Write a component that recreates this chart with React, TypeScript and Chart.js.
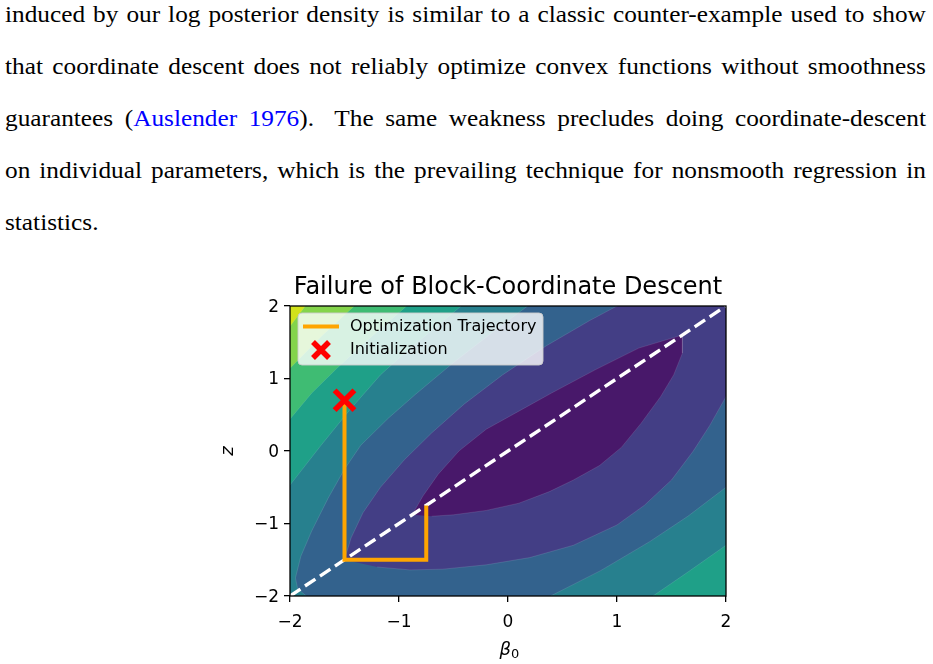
import React, { useEffect, useRef } from "react";
import { Chart, registerables } from "chart.js";

Chart.register(...registerables);

// ---------------- paragraph text ----------------
const paragraphLines: string[] = [
  "induced by our log posterior density is similar to a classic counter-example used to show",
  "that coordinate descent does not reliably optimize convex functions without smoothness",
  "guarantees (Auslender 1976).  The same weakness precludes doing coordinate-descent",
  "on individual parameters, which is the prevailing technique for nonsmooth regression in",
  "statistics.",
];
const citationWords: string[] = ["Auslender", "1976"];
const lineBaselines: number[] = [22.7, 74.7, 126.7, 178.7, 230.7];

// ---------------- chart text ----------------
const chartTitle = "Failure of Block-Coordinate Descent";
const xAxisSymbol = "β";
const xAxisSubscript = "0";
const yAxisLabel = "z";
const xTickValues: number[] = [-2, -1, 0, 1, 2];
const yTickValues: number[] = [-2, -1, 0, 1, 2];
const legendLabels: string[] = ["Optimization Trajectory", "Initialization"];

// ---------------- series ----------------
const trajectoryBeta0: number[] = [-1.5, -1.5, -0.75, -0.75];
const trajectoryZ: number[] = [0.7, -1.5, -1.5, -0.75];
const initBeta0: number[] = [-1.5];
const initZ: number[] = [0.7];
const diagonalBeta0: number[] = [-2, 2];
const diagonalZ: number[] = [-2, 2];

// filled contour bands, inner (lowest) to outer (highest)
const bandColors: string[] = [
  "#48186a", "#433e85", "#33628d", "#27808e",
  "#1fa088", "#3fbc73", "#84d44b", "#d2e21b",
];

// contour boundaries [beta0, z]; each is a closed region below that level
const level1: number[][] = [
  [-0.88, -0.88], [-0.78, -0.62], [-0.64, -0.32], [-0.45, 0.0], [-0.2, 0.3], [0.1, 0.55],
  [0.4, 0.8], [0.8, 1.12], [1.2, 1.42], [1.6, 1.6], [1.6, 1.35], [1.52, 1.05], [1.4, 0.75],
  [1.22, 0.38], [1.04, 0.05], [0.84, -0.2], [0.6, -0.4], [0.38, -0.56], [0.1, -0.72],
  [-0.2, -0.82], [-0.5, -0.88], [-0.7, -0.9],
];
const level2: number[][] = [
  [-1.5, -1.5], [-1.44, -1.2], [-1.33, -0.85], [-1.17, -0.5], [-0.95, -0.12], [-0.7, 0.25],
  [-0.4, 0.65], [-0.05, 1.05], [0.35, 1.45], [0.75, 1.8], [1.0, 2.0], [1.5, 2.35], [2.5, 2.6],
  [2.6, 1.6], [2.2, 1.25], [2.0, 0.75], [1.85, 0.35], [1.7, 0.0], [1.5, -0.4], [1.25, -0.75],
  [1.0, -1.02], [0.6, -1.3], [0.2, -1.47], [-0.2, -1.57], [-0.6, -1.63], [-0.9, -1.64],
  [-1.2, -1.6],
];
const level3: number[][] = [
  [-1.8, -2.6], [-1.85, -2.0], [-1.93, -1.9], [-1.95, -1.75], [-1.9, -1.45], [-1.8, -1.1],
  [-1.65, -0.65], [-1.5, -0.25], [-1.35, 0.08], [-1.1, 0.45], [-0.85, 0.78], [-0.5, 1.22],
  [-0.07, 1.72], [0.18, 2.0], [0.5, 2.6], [2.6, 2.6], [2.6, 0.0], [2.0, -0.5], [1.65, -0.9],
  [1.3, -1.25], [0.85, -1.65], [0.39, -2.0], [0.3, -2.6],
];
const level4: number[][] = [
  [-0.25, 2.6], [-0.43, 2.0], [-0.75, 1.6], [-0.95, 1.35], [-1.17, 1.05], [-1.45, 0.57],
  [-1.72, 0.07], [-1.86, -0.2], [-2.0, -0.47], [-2.6, -1.4], [-2.6, -2.6], [1.1, -2.6],
  [1.33, -2.0], [1.66, -1.66], [2.0, -1.3], [2.6, -0.8], [2.6, 2.6],
];
const level5: number[][] = [
  [-2.6, -0.5], [-2.0, 0.44], [-1.8, 0.8], [-1.57, 1.14], [-1.25, 1.58], [-0.93, 2.0],
  [-0.6, 2.6], [2.6, 2.6], [2.6, -2.6], [-2.6, -2.6],
];
const level6: number[][] = [
  [-2.6, 0.3], [-2.0, 1.14], [-1.7, 1.6], [-1.41, 2.0], [-1.1, 2.6], [2.6, 2.6],
  [2.6, -2.6], [-2.6, -2.6],
];
const level7: number[][] = [
  [-2.3, 1.12], [-2.0, 1.72], [-1.86, 2.0], [-1.6, 2.6], [2.6, 2.6], [2.6, -2.6], [-2.6, -2.6],
];
const outerBox: number[][] = [[-2.6, -2.6], [2.6, -2.6], [2.6, 2.6], [-2.6, 2.6]];

const contourLevels: number[][][] = [level1, level2, level3, level4, level5, level6, level7, outerBox];

const trajectoryColor = "#ffa500";
const initColor = "#ff0000";

const fmt = (v: number) => (v < 0 ? "\u2212" + Math.abs(v) : String(v));

function drawCross(ctx: CanvasRenderingContext2D, cx: number, cy: number, half: number, lw: number, color: string) {
  ctx.save();
  ctx.strokeStyle = color;
  ctx.lineWidth = lw;
  ctx.lineCap = "butt";
  ctx.beginPath();
  ctx.moveTo(cx - half, cy - half);
  ctx.lineTo(cx + half, cy + half);
  ctx.moveTo(cx - half, cy + half);
  ctx.lineTo(cx + half, cy - half);
  ctx.stroke();
  ctx.restore();
}

const framePlugin = {
  id: "mplFrame",
  afterDatasetsDraw(chart: any) {
    const { ctx, chartArea: a } = chart;
    ctx.save();
    ctx.strokeStyle = "#000";
    ctx.lineWidth = 1.3;
    ctx.strokeRect(a.left, a.top, a.right - a.left, a.bottom - a.top);
    ctx.restore();
  },
};

const xLabelPlugin = {
  id: "mplXLabel",
  afterDraw(chart: any) {
    const { ctx, chartArea: a } = chart;
    ctx.save();
    ctx.fillStyle = "#000";
    ctx.textBaseline = "alphabetic";
    ctx.textAlign = "left";
    ctx.font = 'italic 18px "DejaVu Sans"';
    const wb = ctx.measureText(xAxisSymbol).width;
    ctx.font = '13px "DejaVu Sans"';
    const ws = ctx.measureText(xAxisSubscript).width;
    const cx = (a.left + a.right) / 2 + 1.5;
    const x = cx - (wb + ws) / 2;
    const base = a.bottom + 59;
    ctx.font = 'italic 18px "DejaVu Sans"';
    ctx.fillText(xAxisSymbol, x, base);
    ctx.font = '13px "DejaVu Sans"';
    ctx.fillText(xAxisSubscript, x + wb, base + 2.5);
    ctx.restore();
  },
};

const legendPlugin = {
  id: "mplLegend",
  afterDraw(chart: any) {
    const { ctx, chartArea: a } = chart;
    const x0 = a.left + 8;
    const y0 = a.top + 7;
    const w = 245;
    const h = 52;
    ctx.save();
    ctx.beginPath();
    ctx.roundRect(x0, y0, w, h, 4);
    ctx.fillStyle = "rgba(255,255,255,0.8)";
    ctx.fill();
    ctx.strokeStyle = "rgba(204,204,204,0.9)";
    ctx.lineWidth = 1;
    ctx.stroke();
    const y1 = y0 + 13.5;
    const y2 = y0 + 37;
    ctx.strokeStyle = trajectoryColor;
    ctx.lineWidth = 4;
    ctx.beginPath();
    ctx.moveTo(x0 + 5, y1);
    ctx.lineTo(x0 + 41, y1);
    ctx.stroke();
    drawCross(ctx, x0 + 23, y2, 8, 5.5, initColor);
    ctx.fillStyle = "#000";
    ctx.font = '16px "DejaVu Sans"';
    ctx.textBaseline = "middle";
    ctx.textAlign = "left";
    ctx.fillText(legendLabels[0], x0 + 52, y1);
    ctx.fillText(legendLabels[1], x0 + 52, y2);
    ctx.restore();
  },
};

function ContourChart() {
  const ref = useRef<HTMLCanvasElement | null>(null);
  useEffect(() => {
    if (!ref.current) return;
    const pts = (xs: number[], ys: number[]) => xs.map((x, i) => ({ x, y: ys[i] }));
    const contourDatasets = contourLevels.map((poly, i) => ({
      type: "line" as const,
      label: "level" + i,
      data: poly.map(([x, y]) => ({ x, y })),
      borderWidth: 0.7,
      borderColor: "rgba(255,255,255,0.16)",
      backgroundColor: bandColors[i],
      fill: "shape" as const,
      pointRadius: 0,
      tension: 0,
      order: 10 + i,
    }));
    const chart = new Chart(ref.current, {
      type: "line",
      data: {
        datasets: [
          {
            type: "scatter",
            label: legendLabels[1],
            data: pts(initBeta0, initZ),
            pointStyle: "crossRot",
            pointRadius: 14,
            pointBorderWidth: 5.5,
            borderColor: initColor,
            backgroundColor: initColor,
            order: 0,
          } as any,
          {
            label: legendLabels[0],
            data: pts(trajectoryBeta0, trajectoryZ),
            borderColor: trajectoryColor,
            borderWidth: 4,
            pointRadius: 0,
            fill: false,
            tension: 0,
            order: 1,
          },
          {
            label: "diagonal",
            data: pts(diagonalBeta0, diagonalZ),
            borderColor: "#ffffff",
            borderWidth: 3.4,
            borderDash: [12.5, 5.5],
            pointRadius: 0,
            fill: false,
            order: 2,
          },
          ...contourDatasets,
        ],
      },
      options: {
        responsive: false,
        maintainAspectRatio: false,
        animation: false,
        events: [],
        layout: { padding: { left: 0, right: 34, top: 0, bottom: 0 } },
        plugins: {
          legend: { display: false },
          tooltip: { enabled: false },
          title: {
            display: true,
            text: chartTitle,
            color: "#000",
            fullSize: false,
            font: { family: "DejaVu Sans", size: 24, weight: "normal", lineHeight: 1 },
            padding: { top: 16, bottom: 6 },
          },
        },
        scales: {
          x: {
            type: "linear",
            min: -2,
            max: 2,
            afterBuildTicks: (s: any) => {
              s.ticks = xTickValues.map((v) => ({ value: v }));
            },
            afterFit: (s: any) => {
              s.height = 68;
            },
            ticks: {
              color: "#000",
              font: { family: "DejaVu Sans", size: 17 },
              padding: 10,
              maxRotation: 0,
              autoSkip: false,
              callback: (v: any) => fmt(Number(v)),
            },
            grid: { drawOnChartArea: false, drawTicks: true, tickLength: 6, color: "#000", lineWidth: 1.3 },
            border: { display: false },
            title: { display: false },
          },
          y: {
            type: "linear",
            min: -2,
            max: 2,
            afterBuildTicks: (s: any) => {
              s.ticks = yTickValues.map((v) => ({ value: v }));
            },
            afterFit: (s: any) => {
              s.width = 90;
            },
            ticks: {
              color: "#000",
              font: { family: "DejaVu Sans", size: 17 },
              padding: 5,
              labelOffset: 1.5,
              autoSkip: false,
              callback: (v: any) => fmt(Number(v)),
            },
            grid: { drawOnChartArea: false, drawTicks: true, tickLength: 6, color: "#000", lineWidth: 1.3 },
            border: { display: false },
            title: {
              display: true,
              text: yAxisLabel,
              color: "#000",
              font: { family: "DejaVu Sans", size: 18, style: "italic" },
              padding: { top: 18, bottom: 0 },
            },
          },
        },
      } as any,
      plugins: [framePlugin, xLabelPlugin, legendPlugin],
    } as any);
    return () => chart.destroy();
  }, []);
  return (
    <canvas
      ref={ref}
      width={560}
      height={404}
      style={{ position: "absolute", left: 200, top: 260, width: 560, height: 404 }}
    />
  );
}

function Word({ text, extra }: { text: string; extra: number }) {
  const parts = text.split(new RegExp("(" + citationWords.join("|") + ")"));
  return (
    <span style={{ marginRight: extra }}>
      {parts.map((p, i) =>
        citationWords.includes(p) ? (
          <span key={i} style={{ color: "#0000ff" }}>{p}</span>
        ) : (
          <span key={i}>{p}</span>
        )
      )}
    </span>
  );
}

const textStretch = 1.1;

export default function App() {
  return (
    <div style={{ position: "absolute", left: 0, top: 0, width: 933, height: 664, background: "#fff", overflow: "hidden" }}>
      {paragraphLines.map((line, i) => {
        const tokens = line.split(" ");
        const words: { w: string; extra: number }[] = [];
        tokens.forEach((t) => {
          if (t === "") {
            if (words.length) words[words.length - 1].extra = 8;
          } else words.push({ w: t, extra: 0 });
        });
        const last = i === paragraphLines.length - 1;
        return (
          <div
            key={i}
            style={{
              position: "absolute",
              left: 5,
              width: 921 / textStretch,
              top: lineBaselines[i] - 19.3,
              height: 23,
              lineHeight: "23px",
              fontFamily: '"Liberation Serif", serif',
              fontSize: 23,
              color: "#000",
              display: "flex",
              justifyContent: last ? "flex-start" : "space-between",
              whiteSpace: "nowrap",
              transform: `scaleX(${textStretch})`,
              transformOrigin: "0 0",
            }}
          >
            {words.map((w, j) => (
              <Word key={j} text={w.w} extra={w.extra} />
            ))}
          </div>
        );
      })}
      <ContourChart />
    </div>
  );
}
